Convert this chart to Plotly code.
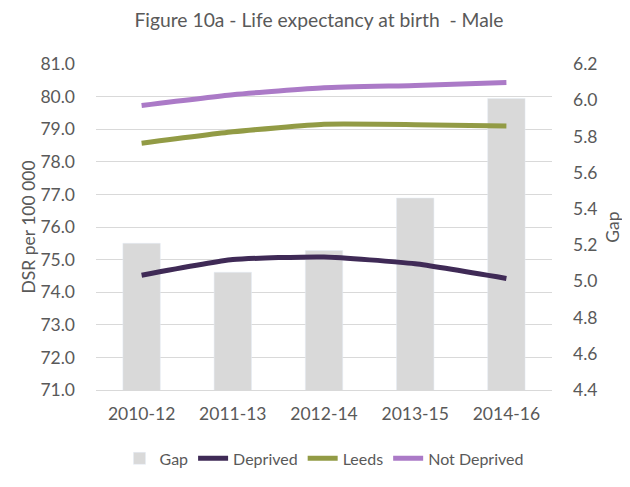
import plotly.graph_objects as go

periodes     = ["2010-12", "2011-13", "2012-14", "2013-15", "2014-16"]
gap          = [5.21, 5.05, 5.17, 5.46, 6.01]
deprived     = [74.52, 75.00, 75.08, 74.87, 74.42]
leeds        = [78.57, 78.92, 79.15, 79.14, 79.10]
not_deprived = [79.73, 80.06, 80.27, 80.34, 80.43]

GRIS   = "#595959"
POLICE = "Lato, 'Open Sans', sans-serif"
TAILLE = 17.5

fig = go.Figure()

# Barres Gap sur l'axe de droite (axe principal pour rester sous les lignes)
fig.add_trace(go.Bar(
    x            = periodes,
    y            = gap,
    name         = "Gap",
    marker_color = "#d9d9d9",
    yaxis        = "y",
))

for nom, valeurs, couleur in [
    ("Deprived",     deprived,     "#3f2a56"),
    ("Leeds",        leeds,        "#929b45"),
    ("Not Deprived", not_deprived, "#ab7ac7"),
]:
    fig.add_trace(go.Scatter(
        x     = periodes,
        y     = valeurs,
        name  = nom,
        mode  = "lines",
        line  = dict(color=couleur, width=5, shape="spline", smoothing=0.5),
        yaxis = "y2",
    ))

# La page a une marge de 8 px : la figure fait 622x479 et se décale d'autant
fig.update_layout(
    width         = 622,
    height        = 479,
    margin        = dict(l=88, r=78, t=56, b=88),
    title         = dict(text="Figure 10a - Life expectancy at birth  - Male",
                         x=0.5, xanchor="center", y=0.974, yanchor="middle",
                         font=dict(size=19.3, color=GRIS, family=POLICE)),
    font          = dict(family=POLICE, color=GRIS, size=TAILLE),
    bargap        = 0.59,
    xaxis         = dict(type="category", showgrid=False, showline=True, linecolor="#d9d9d9",
                         ticks="", automargin=False, ticklabelstandoff=8,
                         tickfont=dict(size=TAILLE, color=GRIS)),
    yaxis         = dict(title=dict(text="Gap", font=dict(size=TAILLE, color=GRIS), standoff=10),
                         side="right", range=[4.4, 6.2], dtick=0.2, tickformat=".1f",
                         showgrid=False, zeroline=False, automargin=False, ticklabelstandoff=20,
                         tickfont=dict(size=TAILLE, color=GRIS)),
    yaxis2        = dict(title=dict(text="DSR per 100 000", font=dict(size=TAILLE, color=GRIS), standoff=0),
                         side="left", overlaying="y", range=[71, 81], dtick=1, tickformat=".1f",
                         showgrid=True, gridcolor="#d9d9d9", gridwidth=1, zeroline=False,
                         automargin=False, ticklabelstandoff=20,
                         tickfont=dict(size=TAILLE, color=GRIS)),
    showlegend    = True,
    legend        = dict(orientation="h", xanchor="center", x=0.5,
                         yanchor="middle", y=-0.21,
                         font=dict(size=16, color=GRIS), traceorder="normal"),
    paper_bgcolor = "white",
    plot_bgcolor  = "white",
)

fig.write_html("out.html")
